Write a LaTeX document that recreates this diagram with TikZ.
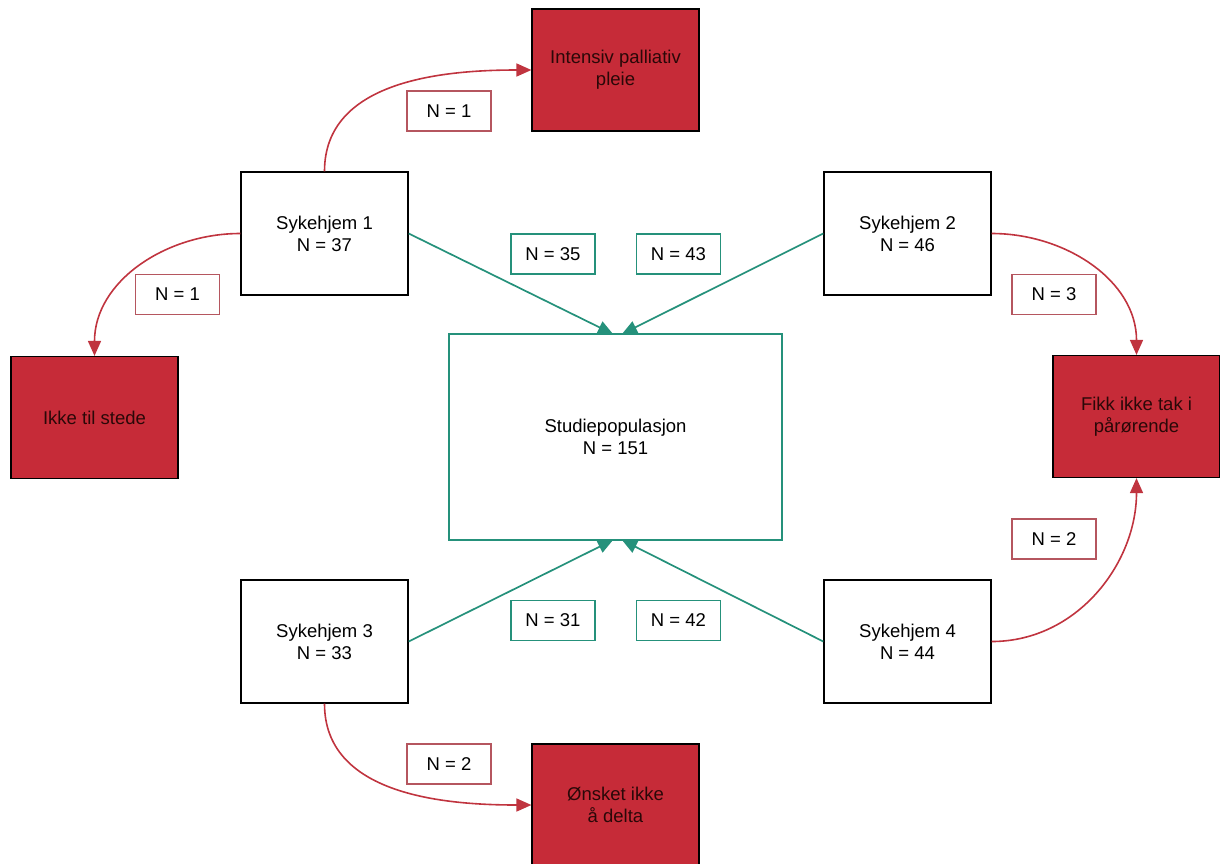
\documentclass[tikz,border=0pt]{standalone}
\usepackage{fontspec}
\setmainfont{Liberation Sans}
\usetikzlibrary{arrows.meta}
\definecolor{boxred}{HTML}{C62B38}
\definecolor{arrred}{HTML}{C0343F}
\definecolor{lblred}{HTML}{B5565F}
\definecolor{teal2}{HTML}{25917B}
\definecolor{darktxt}{HTML}{2A0808}
\tikzset{
  base/.style={rectangle, inner sep=0pt, align=center, font=\fontsize{18.5}{22}\selectfont},
  home/.style={base, draw=black, line width=1.4pt, fill=white, minimum width=167pt, minimum height=123pt},
  drop/.style={base, draw=black, line width=1.2pt, fill=boxred, text=darktxt, minimum width=167pt, minimum height=122pt},
  study/.style={base, draw=teal2, line width=1.6pt, minimum width=333pt, minimum height=206pt},
  redlbl/.style={base, draw=lblred, line width=1.5pt, minimum width=84pt, minimum height=40pt},
  teallbl/.style={base, draw=teal2, line width=1.7pt, minimum width=84pt, minimum height=40pt},
  redarr/.style={draw=arrred, line width=1.6pt, -{Triangle[length=15pt,width=13pt]}},
  tealarr/.style={draw=teal2, line width=1.7pt, -{Triangle[length=15pt,width=13pt]}},
}
\begin{document}
\begin{tikzpicture}[x=1pt,y=-1pt]
\useasboundingbox (0,0) rectangle (1220,863);
% main nodes
\node[home] (s1) at (324.5,233.5) {Sykehjem 1\\N = 37};
\node[home] (s2) at (907.5,233.5) {Sykehjem 2\\N = 46};
\node[home] (s3) at (324.5,641.5) {Sykehjem 3\\N = 33};
\node[home] (s4) at (907.5,641.5) {Sykehjem 4\\N = 44};
\node[study] (sp) at (615.5,437) {Studiepopulasjon\\N = 151};
\node[drop] (ip) at (615.5,70) {Intensiv palliativ\\pleie};
\node[drop] (it) at (94.5,417.5) {Ikke til stede};
\node[drop] (fk) at (1136.5,416.5) {Fikk ikke tak i\\pårørende};
\node[drop] (on) at (615.5,805) {Ønsket ikke\\å delta};
% labels
\node[redlbl] (l1) at (449,111) {N = 1};
\node[redlbl] (l2) at (177.5,294.5) {N = 1};
\node[redlbl] (l3) at (1054,294.5) {N = 3};
\node[redlbl] (l4) at (1054,539) {N = 2};
\node[redlbl] (l5) at (449,764) {N = 2};
\node[teallbl] (t1) at (553,254) {N = 35};
\node[teallbl] (t2) at (678.5,254) {N = 43};
\node[teallbl] (t3) at (553,620.5) {N = 31};
\node[teallbl] (t4) at (678.5,620.5) {N = 42};
% anchor coordinates
\coordinate (spt1) at (613,334);
\coordinate (spt2) at (622,334);
\coordinate (spb1) at (613,540);
\coordinate (spb2) at (622,540);
% teal arrows
\draw[tealarr] (s1.east) -- (spt1);
\draw[tealarr] (s2.west) -- (spt2);
\draw[tealarr] (s3.east) -- (spb1);
\draw[tealarr] (s4.west) -- (spb2);
% red arrows
\draw[redarr] (s1.north) to[out=90,in=180] (ip.west);
\draw[redarr] (s1.west) to[out=180,in=90] (it.north);
\draw[redarr] (s2.east) to[out=0,in=90] (fk.north);
\draw[redarr] (s4.east) to[out=0,in=-90] (fk.south);
\draw[redarr] (s3.south) to[out=-90,in=180] (on.west);
\end{tikzpicture}
\end{document}
